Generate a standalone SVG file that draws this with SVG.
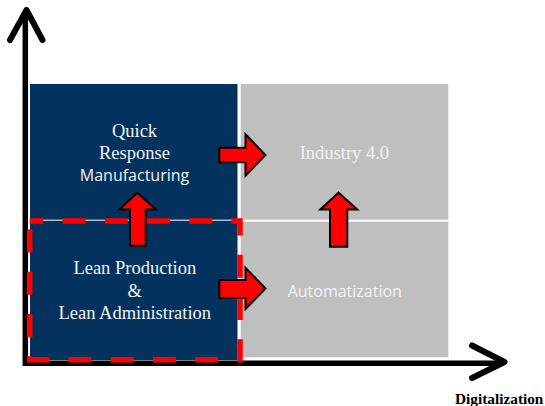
<svg xmlns="http://www.w3.org/2000/svg" width="545" height="406" viewBox="0 0 545 406">
  <style>
    .blue { fill: #03325f; }
    .gray { fill: #bfbfbf; }
    .serif { font-family: "Liberation Serif", "Times New Roman", serif; font-size: 18.5px; fill: #f2f2f2; text-anchor: middle; }
    .sans { font-family: "Open Sans", "Liberation Sans", sans-serif; font-size: 16px; fill: #f2f2f2; text-anchor: middle; }
    .axis { fill: none; stroke: #000; stroke-width: 6; stroke-linecap: round; stroke-linejoin: round; }
    .axisline { fill: none; stroke: #000; stroke-width: 5.5; }
    .block { fill: #ff0000; stroke: #000; stroke-width: 2; stroke-linejoin: miter; }
    .label { font-family: "Liberation Serif", "Times New Roman", serif; font-size: 15.3px; font-weight: bold; fill: #000; }
  </style>
  <rect width="545" height="406" fill="#ffffff"/>

  <g id="axes">
    <path class="axisline" d="M25.3,12 V363.3 H503"/>
    <path class="axis" d="M10,40 L26.5,10 L42.5,40"/>
    <path class="axis" d="M472,345.5 L504.5,362 L472,378"/>
    <text class="label" x="455" y="404">Digitalization</text>
  </g>

  <g id="quick-response-manufacturing">
    <rect class="blue" x="30" y="84" width="207.5" height="135.7"/>
    <text class="serif" x="134.5" y="136.7">Quick</text>
    <text class="serif" x="134.5" y="159.3">Response</text>
    <text class="sans" x="134.5" y="181">Manufacturing</text>
  </g>

  <g id="industry-4-0">
    <rect class="gray" x="240.7" y="84" width="207.6" height="135.7"/>
    <text class="serif" x="344.4" y="159.3">Industry 4.0</text>
  </g>

  <g id="lean-production">
    <rect class="blue" x="30" y="220.7" width="207.5" height="139.3"/>
    <text class="serif" x="134.8" y="274.3">Lean Production</text>
    <text class="serif" x="134.8" y="296.7">&amp;</text>
    <text class="serif" x="134.8" y="319.3">Lean Administration</text>
  </g>

  <g id="automatization">
    <rect class="gray" x="240.7" y="221.7" width="207.6" height="135.6"/>
    <text class="sans" x="344.8" y="296.7">Automatization</text>
  </g>

  <g id="highlight">
    <rect x="29.7" y="221" width="210.3" height="138.7" fill="none" stroke="#ff0000" stroke-width="5.5" stroke-dasharray="23 19.25" stroke-dashoffset="9.4"/>
  </g>

  <g id="connectors">
    <path class="block" d="M219.3,147.7 H245.5 V134.3 L265.5,155 L245.5,175.7 V162.3 H219.3 Z"/>
    <path class="block" d="M219.3,280 H245.5 V267.7 L265.5,288.5 L245.5,309 V298 H219.3 Z"/>
    <path class="block" d="M130,245.7 V209.5 H119.3 L137.3,192.7 L155.7,209.5 H145.7 V245.7 Z"/>
    <path class="block" d="M330,246.7 V209.5 H320.3 L338.5,192.7 L357.3,209.5 H347.3 V246.7 Z"/>
  </g>
</svg>
